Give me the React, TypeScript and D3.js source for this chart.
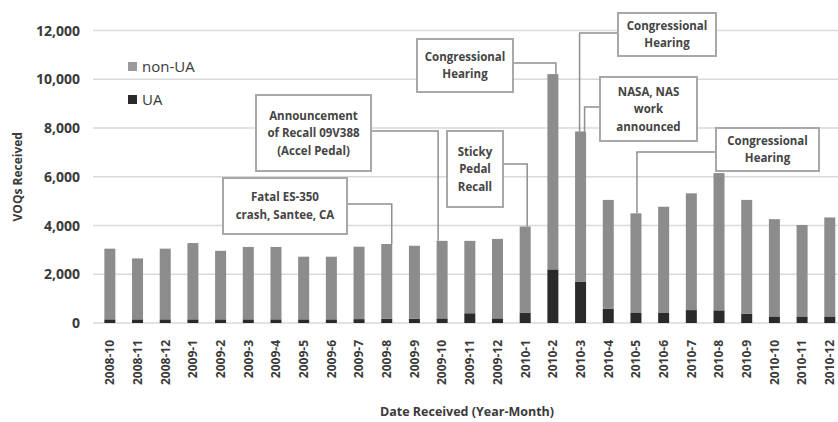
import React from "react";
import * as d3 from "d3";

const categories = [
  "2008-10", "2008-11", "2008-12",
  "2009-1", "2009-2", "2009-3", "2009-4", "2009-5", "2009-6",
  "2009-7", "2009-8", "2009-9", "2009-10", "2009-11", "2009-12",
  "2010-1", "2010-2", "2010-3", "2010-4", "2010-5", "2010-6",
  "2010-7", "2010-8", "2010-9", "2010-10", "2010-11", "2010-12",
];

const uaValues = [
  150, 150, 150, 150, 150, 150, 150, 150, 150, 160, 170, 180, 190, 400,
  190, 430, 2200, 1700, 580, 410, 410, 530, 520, 380, 270, 270, 270,
];

const nonUaValues = [
  2900, 2500, 2900, 3130, 2810, 2970, 2970, 2570, 2570, 2970, 3070, 2990,
  3180, 2970, 3260, 3530, 8010, 6160, 4470, 4090, 4360, 4790, 5630, 4670,
  3990, 3750, 4060,
];

const yTicks = [0, 2000, 4000, 6000, 8000, 10000, 12000];

const seriesNames = ["UA", "non-UA"];

const annotationTexts = [
  ["Fatal ES-350", "crash, Santee, CA"],
  ["Announcement", "of Recall 09V388", "(Accel Pedal)"],
  ["Sticky", "Pedal", "Recall"],
  ["Congressional", "Hearing"],
  ["Congressional", "Hearing"],
  ["NASA, NAS", "work", "announced"],
  ["Congressional", "Hearing"],
];
const annotationTargets = [
  "2009-8", "2009-10", "2010-1", "2010-2", "2010-3", "2010-3", "2010-5",
];

// layout (box positions in px, side from which connector leaves, connector x offset)
const annotationLayout = [
  { x0: 223, x1: 347, y0: 178, y1: 234, side: "right", ly: 204, dx: 5 },
  { x0: 256, x1: 371, y0: 95, y1: 171, side: "right", ly: 131, dx: -4 },
  { x0: 447, x1: 503, y0: 131, y1: 207, side: "right", ly: 164, dx: 2 },
  { x0: 417, x1: 513, y0: 39, y1: 92, side: "right", ly: 63, dx: 3 },
  { x0: 618, x1: 716, y0: 13, y1: 56, side: "left", ly: 33, dx: -1 },
  { x0: 600, x1: 697, y0: 77, y1: 141, side: "left", ly: 107, dx: 4 },
  { x0: 716, x1: 819, y0: 128, y1: 171, side: "left", ly: 152, dx: 1 },
];

const W = 838;
const H = 422;
const plotTop = 30.5;
const plotBottom = 323;
const bandLeft = 96;
const step = 27.69;

const FONT = "'Open Sans', 'DejaVu Sans', sans-serif";
const TEXT = "#3a3a3a";
const GRAY = "#8c8c8c";
const DARK = "#2a2a2a";

export default function App() {
  const x = d3
    .scaleBand<string>()
    .domain(categories)
    .range([bandLeft, bandLeft + step * categories.length])
    .paddingInner(0.6)
    .paddingOuter(0.3);
  const y = d3.scaleLinear().domain([0, 12000]).range([plotBottom, plotTop]);

  const rows = categories.map((c, i) => ({
    cat: c,
    UA: uaValues[i],
    "non-UA": nonUaValues[i],
  }));
  const stacked = d3.stack<any>().keys(seriesNames)(rows);
  const colors: Record<string, string> = { UA: DARK, "non-UA": GRAY };

  const bw = 11;
  const cx = (c: string) => (x(c) as number) + x.bandwidth() / 2;
  const totalOf = (c: string) => {
    const i = categories.indexOf(c);
    return uaValues[i] + nonUaValues[i];
  };

  return (
    <svg
      width={W}
      height={H}
      style={{ position: "absolute", left: 0, top: 0, background: "#fff" }}
      fontFamily={FONT}
    >
      <rect x={0} y={0} width={W} height={H} fill="#fff" />
      {/* gridlines */}
      {yTicks.map((t) => (
        <line
          key={t}
          x1={93}
          x2={W}
          y1={y(t)}
          y2={y(t)}
          stroke="#d9d9d9"
          strokeWidth={1.5}
        />
      ))}
      {/* y tick labels */}
      {yTicks.map((t) => (
        <text
          key={"yt" + t}
          x={80}
          y={y(t)}
          dy="0.36em"
          textAnchor="end"
          fontSize={14}
          fontWeight="bold"
          fill={TEXT}
        >
          {d3.format(",")(t)}
        </text>
      ))}
      {/* y axis title */}
      <text
        transform={`translate(18,${(plotTop + plotBottom) / 2}) rotate(-90)`}
        textAnchor="middle"
        dy="0.35em"
        fontSize={12}
        fontWeight="bold"
        fill={TEXT}
      >
        VOQs Received
      </text>
      {/* bars */}
      {stacked.map((s) => (
        <g key={s.key} fill={colors[s.key]}>
          {s.map((d, i) => (
            <rect
              key={i}
              x={cx(categories[i]) - bw / 2}
              width={bw}
              y={y(d[1])}
              height={y(d[0]) - y(d[1])}
            />
          ))}
        </g>
      ))}
      {/* x tick labels */}
      {categories.map((c) => (
        <text
          key={"xt" + c}
          transform={`translate(${cx(c)},340) rotate(-90)`}
          textAnchor="end"
          dy="0.36em"
          fontSize={12}
          fontWeight="bold"
          fill={TEXT}
        >
          {c}
        </text>
      ))}
      {/* x axis title */}
      <text
        x={467}
        y={416}
        textAnchor="middle"
        fontSize={12.5}
        fontWeight="bold"
        fill={TEXT}
      >
        Date Received (Year-Month)
      </text>
      {/* legend */}
      <g>
        <rect x={128} y={62} width={9} height={9} fill="#9a9a9a" />
        <text x={142} y={67} dy="0.36em" fontSize={15} fill={TEXT}>
          non-UA
        </text>
        <rect x={128} y={95} width={9} height={9} fill={DARK} />
        <text x={142} y={100} dy="0.36em" fontSize={15} fill={TEXT}>
          UA
        </text>
      </g>
      {/* annotations */}
      {annotationTexts.map((lines, k) => {
        const L = annotationLayout[k];
        const tc = annotationTargets[k];
        const lx = cx(tc) + L.dx;
        const ty = y(totalOf(tc));
        const sx = L.side === "right" ? L.x1 : L.x0;
        const midY = (L.y0 + L.y1) / 2;
        const lh = 17.5;
        const startY = midY - ((lines.length - 1) * lh) / 2;
        return (
          <g key={"an" + k}>
            <path
              d={`M${sx},${L.ly}H${lx}V${ty}`}
              fill="none"
              stroke="#8f8f8f"
              strokeWidth={1.5}
            />
            <rect
              x={L.x0}
              y={L.y0}
              width={L.x1 - L.x0}
              height={L.y1 - L.y0}
              fill="#fff"
              stroke="#a8a8a8"
              strokeWidth={2}
            />
            {lines.map((ln, j) => (
              <text
                key={j}
                x={(L.x0 + L.x1) / 2}
                y={startY + j * lh}
                dy="0.35em"
                textAnchor="middle"
                fontSize={11.5}
                fontWeight="bold"
                fill="#444"
              >
                {ln}
              </text>
            ))}
          </g>
        );
      })}
    </svg>
  );
}
